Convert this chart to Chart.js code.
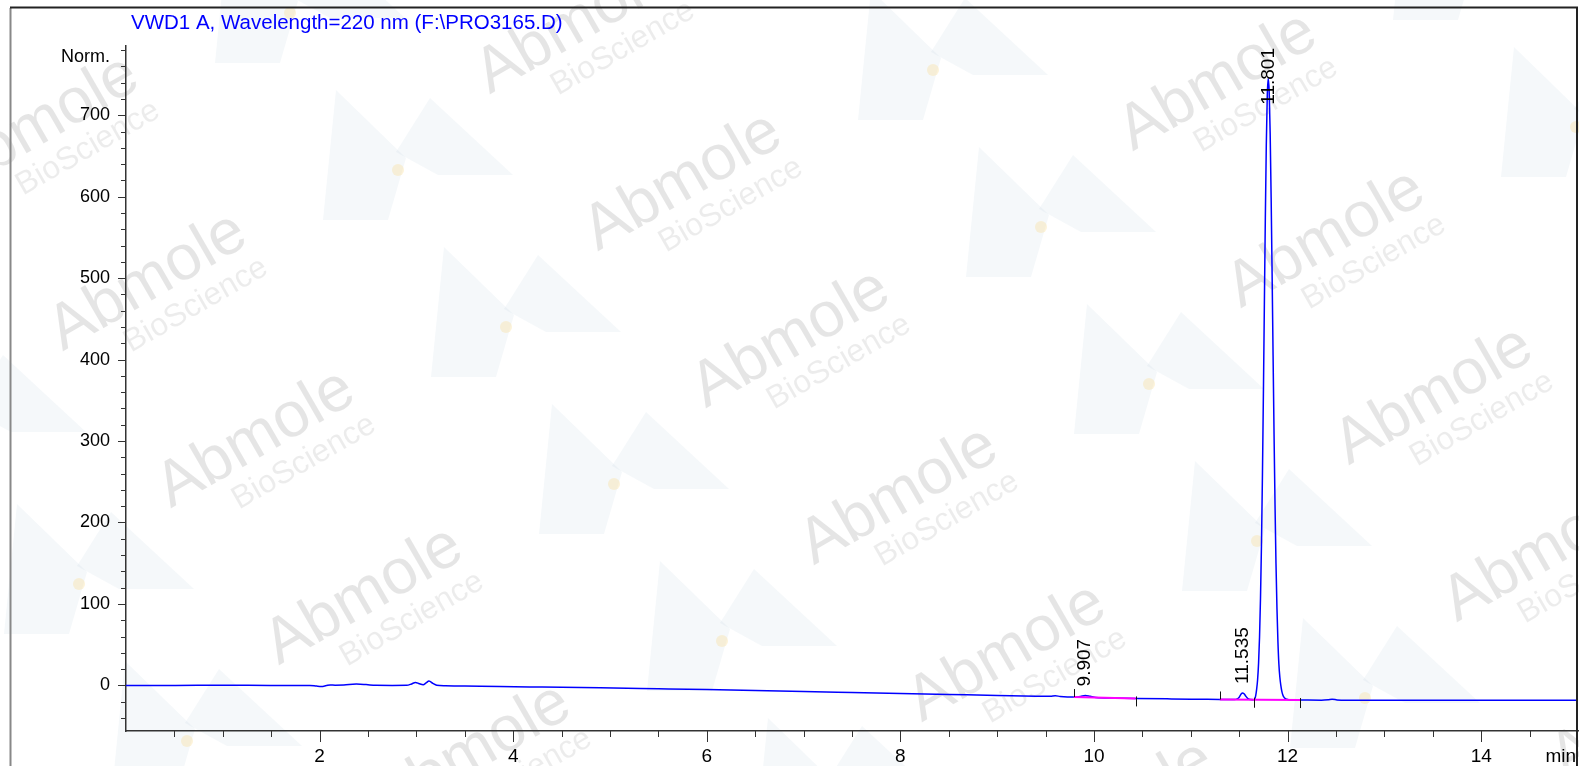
<!DOCTYPE html>
<html>
<head>
<meta charset="utf-8">
<script src="https://cdn.jsdelivr.net/npm/chart.js@4.4.1/dist/chart.umd.min.js"></script>
<style>
  html, body { margin: 0; padding: 0; background: #fff; overflow: hidden; }
  #wrap { width: 1579px; height: 766px; position: relative; }
</style>
</head>
<body>
<div id="wrap"><canvas id="chrom"></canvas></div>
<script>
// VWD1 A, 220 nm trace (time in min, signal in Norm. units)
const times = [
  0, 0.5, 1.0, 1.5, 1.9, 1.97, 2.02, 2.07, 2.11, 2.16, 2.25, 2.38, 2.48, 2.58, 2.75,
  2.9, 2.95, 2.99, 3.03, 3.07, 3.10, 3.13, 3.17, 3.21, 3.3, 3.5, 3.86, 4.3, 4.9,
  5.5, 6.0, 6.5, 7.0, 7.5, 8.0, 8.5, 9.0, 9.4, 9.55, 9.6, 9.65, 9.79, 9.86, 9.91,
  9.96, 10.02, 10.2, 10.43, 10.8, 11.1, 11.3, 11.45, 11.48, 11.50, 11.52, 11.535,
  11.55, 11.57, 11.59, 11.62, 11.65, 11.66, 11.67, 11.68, 11.69, 11.70, 11.71,
  11.72, 11.73, 11.74, 11.75, 11.76, 11.77, 11.78, 11.79, 11.80, 11.81, 11.82,
  11.83, 11.84, 11.85, 11.86, 11.87, 11.88, 11.89, 11.90, 11.91, 11.92, 11.93,
  11.94, 11.95, 11.96, 11.98, 12.01, 12.05, 12.13, 12.35, 12.42, 12.46, 12.51,
  12.6, 13.0, 14.0, 15.0
];
const signal = [
  0, 0, 0.1, 0, 0, -0.9, -1.3, -0.2, 0.6, 0.3, 0.5, 1.6, 1.0, 0.1, 0,
  0.1, 1.8, 3.6, 2.0, 0.9, 3.0, 5.4, 2.5, 0.2, -0.5, -0.8, -1.4, -2.0, -2.8,
  -4.1, -5.2, -6.4, -7.5, -8.7, -9.9, -11.1, -12.3, -13.3, -13.4, -12.8, -13.5, -14.3, -13.6, -12.3,
  -13.4, -14.8, -15.4, -16.0, -16.6, -17.0, -17.3, -17.4, -16.6, -14.5, -10.5, -9.2,
  -10.3, -13.5, -16.2, -17.4, -17.6, -16.8, -13, -5, 7, 27, 59,
  107, 172, 257, 358, 468, 574, 664, 724, 745, 728, 677,
  599, 505, 405, 308, 222, 150, 95, 54, 26, 10, 0,
  -7, -11.5, -14, -16.5, -17.5, -17.9, -18.0, -18.2, -17.6, -16.9, -17.8,
  -18.3, -18.3, -18.4, -18.4
];

const peakTimes  = [9.907, 11.535, 11.801];
const peakApex   = [-12.3, -9.2, 745];
const peakLabels = ['9.907', '11.535', '11.801'];

// integration baselines (magenta)
const baseFrom  = [9.79, 11.30];
const baseFromY = [-14.3, -17.3];
const baseTo    = [10.43, 12.13];
const baseToY   = [-16.0, -18.0];

// peak start / end marks
const markTimes  = [9.79, 10.43, 11.30, 11.65, 12.13];
const markValues = [-14.3, -16.0, -17.3, -17.6, -18.0];
const markUp     = [true, false, true, false, false];

const xLabels = [2, 4, 6, 8, 10, 12, 14];
const yLabels = [0, 100, 200, 300, 400, 500, 600, 700];
const X_MIN = 0, X_MAX = 15, X_STEP = 0.5;
const Y_MIN = -56, Y_MAX = 785, Y_STEP = 20;

const TITLE = 'VWD1 A, Wavelength=220 nm (F:\\PRO3165.D)';
const FONT = '"Liberation Sans", Arial, sans-serif';

function stepTicks(min, max, step) {
  const out = [];
  for (let v = Math.ceil(min / step) * step; v <= max + 1e-9; v += step) {
    out.push({ value: Math.round(v * 100) / 100 });
  }
  return out;
}

function drawWatermarks(ctx, w, h) {
  const a = [108, 157], b = [535, -100];
  for (let i = -2; i <= 7; i++) {
    for (let j = -1; j <= 4; j++) {
      const cx = 40 + i * a[0] + j * b[0];
      const cy = 125 + i * a[1] + j * b[1];
      if (cx < -350 || cx > w + 350 || cy < -200 || cy > h + 200) continue;
      const dx = cx - 285, dy = cy - 12;
      ctx.fillStyle = 'rgba(170,195,215,0.12)';
      ctx.beginPath();
      ctx.moveTo(dx - 75, dy + 50); ctx.lineTo(dx - 62, dy - 80); ctx.lineTo(dx + 8, dy - 12);
      ctx.lineTo(dx - 10, dy + 50);
      ctx.closePath(); ctx.fill();
      ctx.beginPath();
      ctx.moveTo(dx - 2, dy - 18); ctx.lineTo(dx + 32, dy - 72); ctx.lineTo(dx + 115, dy + 5);
      ctx.lineTo(dx + 40, dy + 5);
      ctx.closePath(); ctx.fill();
      ctx.fillStyle = 'rgba(250,220,150,0.35)';
      ctx.beginPath(); ctx.arc(dx, dy, 6, 0, Math.PI * 2); ctx.fill();

      ctx.save();
      ctx.translate(cx, cy);
      ctx.rotate(-Math.PI / 6);
      ctx.textAlign = 'center';
      ctx.textBaseline = 'middle';
      ctx.fillStyle = 'rgba(0,0,0,0.10)';
      ctx.font = '64px ' + FONT;
      ctx.fillText('Abmole', 0, 0);
      ctx.fillStyle = 'rgba(0,0,0,0.075)';
      ctx.font = '32px ' + FONT;
      ctx.fillText('BioScience', 30, 44);
      ctx.restore();
    }
  }
}

const decor = {
  id: 'decor',
  beforeDraw(chart) {
    const { ctx, width, height } = chart;
    ctx.save();
    ctx.fillStyle = '#fff';
    ctx.fillRect(0, 0, width, height);
    drawWatermarks(ctx, width, height);
    ctx.restore();
  },
  afterDatasetsDraw(chart) {
    const { ctx, chartArea: area } = chart;
    const x = chart.scales.x, y = chart.scales.y;
    ctx.save();
    // peak start / end marks
    ctx.strokeStyle = '#111';
    ctx.lineWidth = 1;
    markTimes.forEach((t, i) => {
      const px = Math.round(x.getPixelForValue(t)) + 0.5;
      const py = y.getPixelForValue(markValues[i]);
      ctx.beginPath();
      if (markUp[i]) { ctx.moveTo(px, py - 8); ctx.lineTo(px, py); }
      else { ctx.moveTo(px, py - 2); ctx.lineTo(px, py + 8); }
      ctx.stroke();
    });
    // retention time labels
    ctx.fillStyle = '#000';
    ctx.font = '19px ' + FONT;
    ctx.textAlign = 'left';
    ctx.textBaseline = 'middle';
    peakTimes.forEach((t, i) => {
      const px = x.getPixelForValue(t);
      const py = y.getPixelForValue(peakApex[i]);
      const w = ctx.measureText(peakLabels[i]).width;
      const start = Math.max(py - 9, area.top + w + 2);
      ctx.save();
      ctx.translate(px, start);
      ctx.rotate(-Math.PI / 2);
      ctx.fillText(peakLabels[i], 0, 0);
      ctx.restore();
    });
    ctx.restore();
  },
  afterDraw(chart) {
    const { ctx, chartArea: area, height } = chart;
    const x = chart.scales.x, y = chart.scales.y;
    ctx.save();
    ctx.strokeStyle = '#333';
    ctx.lineWidth = 1;
    y.ticks.forEach(t => {
      const py = Math.round(y.getPixelForValue(t.value)) + 0.5;
      const len = t.value % 100 === 0 ? 8 : 5;
      ctx.beginPath(); ctx.moveTo(area.left - len, py); ctx.lineTo(area.left, py); ctx.stroke();
    });
    x.ticks.forEach(t => {
      if (t.value <= X_MIN || t.value >= X_MAX) return;
      const px = Math.round(x.getPixelForValue(t.value)) + 0.5;
      const len = xLabels.includes(t.value) ? 11 : 6;
      ctx.beginPath(); ctx.moveTo(px, area.bottom); ctx.lineTo(px, area.bottom + len); ctx.stroke();
    });

    // outer frame
    ctx.lineWidth = 2;
    ctx.strokeStyle = '#888';
    ctx.beginPath(); ctx.moveTo(10.5, 8); ctx.lineTo(10.5, height); ctx.stroke();
    ctx.strokeStyle = '#222';
    ctx.beginPath(); ctx.moveTo(10, 7.5); ctx.lineTo(1577, 7.5); ctx.lineTo(1577, height); ctx.stroke();

    // texts
    ctx.fillStyle = '#0000ff';
    ctx.font = '20.5px ' + FONT;
    ctx.textAlign = 'left';
    ctx.textBaseline = 'alphabetic';
    ctx.fillText(TITLE, 131, 29);

    ctx.fillStyle = '#000';
    ctx.font = '18px ' + FONT;
    ctx.textAlign = 'right';
    ctx.textBaseline = 'middle';
    ctx.fillText('Norm.', area.left - 16, 57);
    ctx.textBaseline = 'alphabetic';
    ctx.font = '19px ' + FONT;
    ctx.fillText('min', 1576, 762);
    ctx.restore();
  }
};

function noPadding(s) {
  s.paddingLeft = 0; s.paddingRight = 0; s.paddingTop = 0; s.paddingBottom = 0;
}

const trace = times.map((t, i) => ({ x: t, y: signal[i] }));
const baselines = baseFrom.map((t, i) => ({
  data: [{ x: t, y: baseFromY[i] }, { x: baseTo[i], y: baseToY[i] }],
  borderColor: '#ff00ff',
  borderWidth: 2,
  pointRadius: 0,
  fill: false,
  order: 0,
}));

new Chart(document.getElementById('chrom'), {
  type: 'line',
  data: {
    datasets: [{
      data: trace,
      borderColor: '#0000ff',
      borderWidth: 1.5,
      pointRadius: 0,
      fill: false,
      cubicInterpolationMode: 'monotone',
      order: 1,
    }, ...baselines],
  },
  options: {
    responsive: true,
    maintainAspectRatio: false,
    animation: false,
    events: [],
    layout: { autoPadding: false, padding: { top: 46, right: 1, left: 0, bottom: 0 } },
    plugins: {
      legend: { display: false },
      tooltip: { enabled: false },
      title: { display: false },
    },
    scales: {
      x: {
        type: 'linear',
        min: X_MIN,
        max: X_MAX,
        bounds: 'data',
        grid: { display: false, drawTicks: false },
        border: { display: true, color: '#333', width: 1.5 },
        afterBuildTicks: s => { s.ticks = stepTicks(X_MIN, X_MAX, X_STEP); },
        afterFit: s => { s.height = 35; noPadding(s); },
        ticks: {
          autoSkip: false,
          maxRotation: 0,
          minRotation: 0,
          padding: 14,
          color: '#000',
          font: { family: FONT, size: 19 },
          callback: v => (xLabels.includes(v) ? String(v) : ''),
        },
      },
      y: {
        type: 'linear',
        min: Y_MIN,
        max: Y_MAX,
        bounds: 'data',
        grid: { display: false, drawTicks: false },
        border: { display: true, color: '#333', width: 1.5 },
        afterBuildTicks: s => { s.ticks = stepTicks(Y_MIN, Y_MAX, Y_STEP); },
        afterFit: s => { s.width = 126; noPadding(s); },
        ticks: {
          autoSkip: false,
          padding: 16,
          color: '#000',
          font: { family: FONT, size: 18 },
          callback: v => (yLabels.includes(v) ? String(v) : ''),
        },
      },
    },
  },
  plugins: [decor],
});
</script>
</body>
</html>
